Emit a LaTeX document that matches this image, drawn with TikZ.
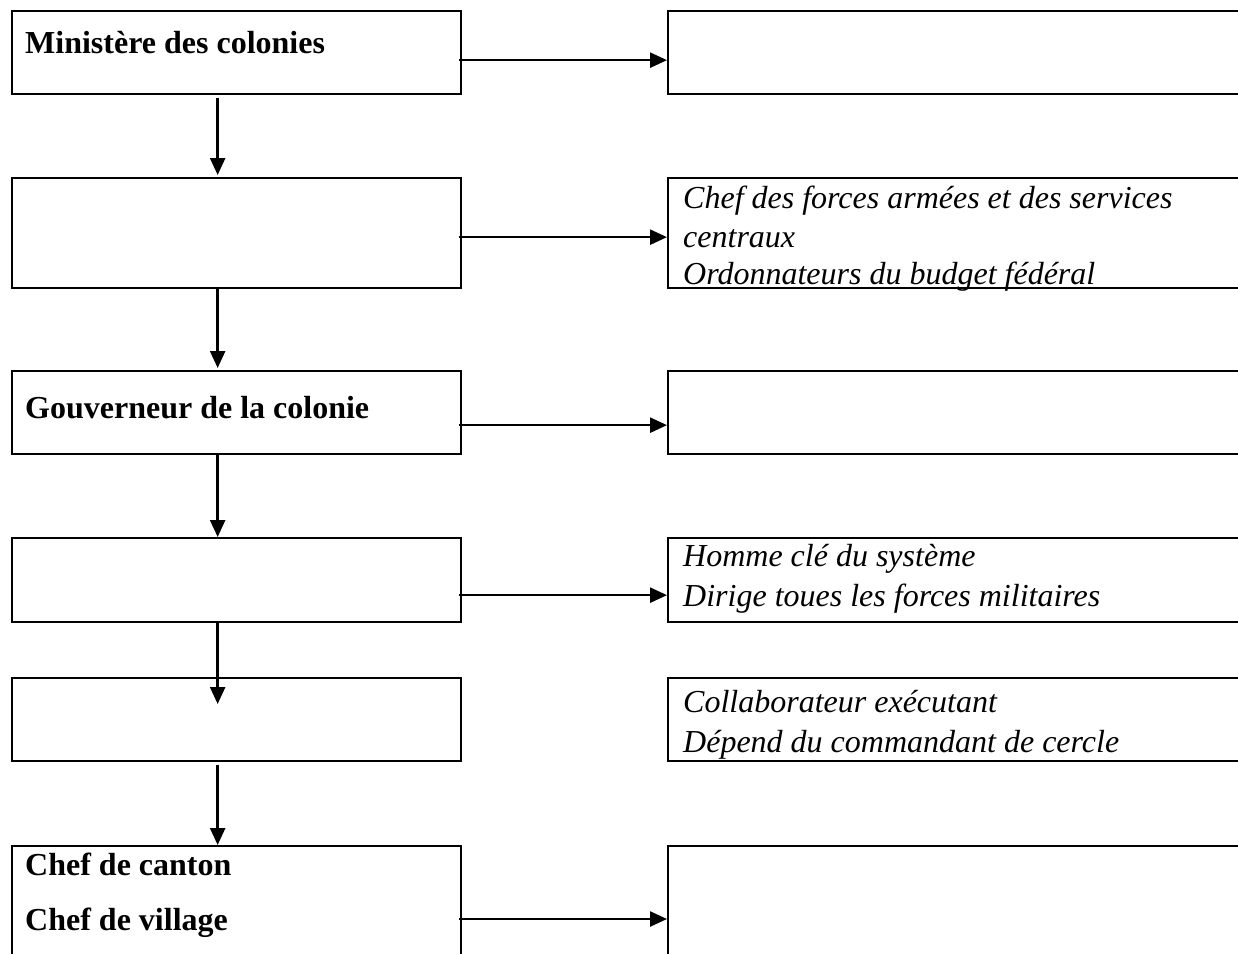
\documentclass[tikz,border=0pt]{standalone}
\usepackage{fontspec}
\setmainfont{Liberation Serif}
\usetikzlibrary{arrows.meta}
\begin{document}
\begin{tikzpicture}[x=1pt,y=-1pt,
  box/.style={draw=black,line width=2.3pt,rectangle,inner sep=0pt,anchor=north west},
  lbox/.style={box,minimum width=449pt},
  rbox/.style={box,minimum width=600pt},
  arr/.style={line width=2.5pt,-{Triangle[length=17pt,width=15pt]}},
  btxt/.style={inner sep=0pt,anchor=base west,font=\fontsize{32}{38}\selectfont\bfseries},
  itxt/.style={inner sep=0pt,anchor=base west,font=\fontsize{32}{38}\selectfont\itshape}]
\useasboundingbox (0,0) rectangle (1238,953);
\clip (0,0) rectangle (1238,953);
% left column
\node[lbox,minimum height=83pt] (l1) at (11,10) {};
\node[lbox,minimum height=110pt] (l2) at (11,177) {};
\node[lbox,minimum height=83pt] (l3) at (11,370) {};
\node[lbox,minimum height=84pt] (l4) at (11,537) {};
\node[lbox,minimum height=83pt] (l5) at (11,677) {};
\node[lbox,minimum height=160pt] (l6) at (11,845) {};
% right column
\node[rbox,minimum height=83pt] (r1) at (667,10) {};
\node[rbox,minimum height=110pt] (r2) at (667,177) {};
\node[rbox,minimum height=83pt] (r3) at (667,370) {};
\node[rbox,minimum height=84pt] (r4) at (667,537) {};
\node[rbox,minimum height=83pt] (r5) at (667,677) {};
\node[rbox,minimum height=160pt] (r6) at (667,845) {};
% texts
\node[btxt] (t1) at (25,53) {Ministère des colonies};
\node[btxt] (t3) at (25,418) {Gouverneur de la colonie};
\node[btxt] (t6a) at (25,875) {Chef de canton};
\node[btxt] (t6b) at (25,930) {Chef de village};
\node[itxt] (u2a) at (683,208) {Chef des forces armées et des services};
\node[itxt] (u2b) at (683,247) {centraux};
\node[itxt] (u2c) at (683,284) {Ordonnateurs du budget fédéral};
\node[itxt] (u4a) at (683,566) {Homme clé du système};
\node[itxt] (u4b) at (683,606) {Dirige toues les forces militaires};
\node[itxt] (u5a) at (683,712) {Collaborateur exécutant};
\node[itxt] (u5b) at (683,752) {Dépend du commandant de cercle};
% horizontal arrows
\draw[arr] ([xshift=-3pt,yshift=-7.5pt]l1.east) -- ([yshift=-7.5pt]r1.west);
\draw[arr] ([xshift=-3pt,yshift=-4pt]l2.east) -- ([yshift=-4pt]r2.west);
\draw[arr] ([xshift=-3pt,yshift=-12.5pt]l3.east) -- ([yshift=-12.5pt]r3.west);
\draw[arr] ([xshift=-3pt,yshift=-15pt]l4.east) -- ([yshift=-15pt]r4.west);
\draw[arr] ([xshift=-3pt]l6.north east |- 0,919) -- (r6.west |- 0,919);
% vertical arrows
\draw[arr] ([xshift=-19pt,yshift=-3pt]l1.south) -- ([xshift=-19pt,yshift=2pt]l2.north);
\draw[arr] ([xshift=-19pt]l2.south) -- ([xshift=-19pt,yshift=2pt]l3.north);
\draw[arr] ([xshift=-19pt]l3.south) -- ([xshift=-19pt]l4.north);
\draw[arr] ([xshift=-19pt]l4.south) -- ([xshift=-19pt,yshift=-27pt]l5.north);
\draw[arr] ([xshift=-19pt,yshift=-3pt]l5.south) -- ([xshift=-19pt]l6.north);
\end{tikzpicture}
\end{document}
